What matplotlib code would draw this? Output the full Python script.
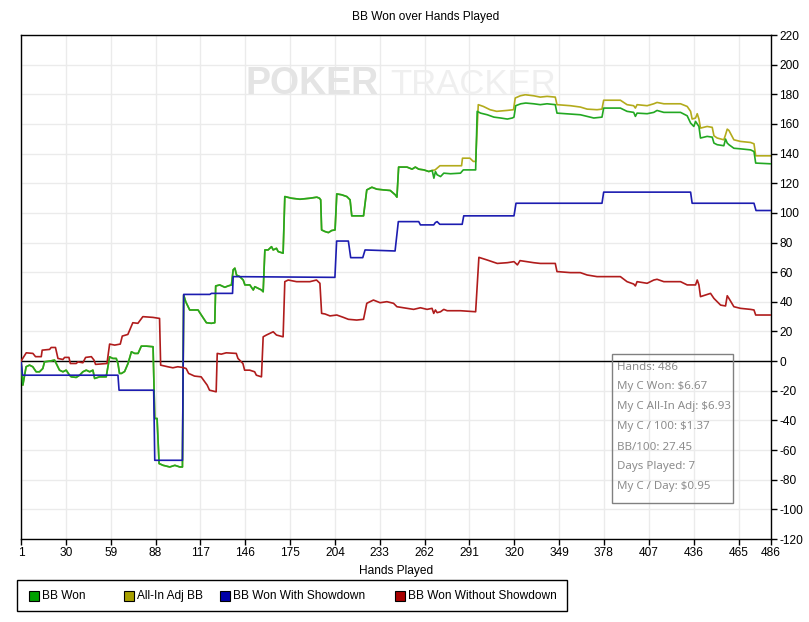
import matplotlib
matplotlib.use('Agg')
import matplotlib.pyplot as plt
from matplotlib.patches import Rectangle

plt.rcParams['font.family'] = ['Liberation Sans', 'DejaVu Sans']
plt.rcParams['axes.unicode_minus'] = False

# BB Won (green)
won_hands = [1, 2.2, 4.3, 6.5, 8.6, 10.8, 13, 15.1, 16.2, 20.5, 22.7, 23.8, 25.9, 28.1, 30.2,
             32.4, 33.5, 36.7, 38.9, 41, 43.2, 45.4, 47.5, 48.6, 51.8, 56.1, 58.3, 60.4, 62.6,
             63.7, 64.7, 66, 68, 70.2, 72.4, 74.5, 76.7, 78.8, 82.1, 86.4, 87.5, 89, 90.3, 92.9,
             95.1, 97.2, 100.5, 103.7, 105.4, 106.2, 107.5, 110.1, 115.5, 117.6, 120.9, 124.1,
             126.3, 126.9, 129.5, 132.8, 134.9, 137.1, 138.2, 139.3, 140.4, 142.5, 144.7, 145.8,
             149, 151.2, 152.2, 154.4, 156.5, 157.6, 158.7, 160.8, 163, 164.1, 166.2, 167.3,
             170.5, 171.6, 175.9, 181.4, 187.9, 192.3, 194, 194.8, 195.4, 197.6, 199.8, 201.9,
             204.1, 205.2, 208.4, 211.7, 213.8, 214.9, 222.5, 224.6, 227.9, 231.1, 235.5, 239.8,
             243, 244.1, 245.2, 250.6, 253.9, 256, 258.2, 261.5, 264.7, 266.9, 268, 269, 270.1,
             272.3, 274.4, 278.7, 285.2, 287, 295, 296, 298.2, 302.5, 306.8, 311.2, 315.5, 318.7,
             319.8, 320.9, 324.2, 327.4, 332.5, 336.8, 341.2, 346.5, 347.6, 356.3, 362.7, 367.1,
             371.4, 376.7, 377.8, 388.6, 392.9, 397.2, 398.3, 399.4, 405.9, 410.2, 412.3, 416.7,
             427.5, 431.8, 434, 436.1, 437.2, 439.4, 440.4, 444.7, 448, 449.1, 451.2, 455.5,
             456.6, 457.7, 458.8, 462, 466.3, 472.8, 475, 476.1, 486]
won_bb = [0, -16.2, -3.8, -2.7, -3.8, -7.2, -7.2, -5, -0.5, 0.2, 0.7, -1.6, -6.1, -7.2, -6.1,
          -9.5, -10.6, -11, -9.5, -7.2, -6.1, -7.2, -6.1, -11.7, -10.6, -10.6, 2.9, 1.8, 1.8,
          -1.6, -8.3, -8.3, -7, -1.6, 6.3, 5.2, 5.2, 10.1, 10.1, 9.7, -38.7, -38.7, -69.1, -70.3,
          -70.9, -71.4, -70.3, -71.4, -71.4, 44.6, 40.1, 34.5, 34.5, 31.1, 25.9, 25.5,
          25.9, 50.7, 51.4, 49.8, 50.7, 51.4, 61.6, 62.7, 58, 57, 54.7, 51.4,
          51.4, 48, 50.2, 49.1, 48, 46.8, 75, 75, 77.2, 75, 76.1, 73.9,
          72.8, 111, 109.9, 109.2, 109.9, 110.6, 109.9, 108.8, 88.5, 87.4, 86.7, 88.1,
          88.5, 112.8, 112.2, 111, 108.8, 98, 98, 115.5, 117.3, 116, 115.5, 115.1,
          112.2, 110.6, 130.9, 130.9, 129.5, 130.9, 129.5, 129, 127.9, 128.6, 123.4, 127.9, 125.7,
          124.5, 126.8, 126.4, 126.8, 129, 129, 168.5, 167.3, 166.2, 164.6, 164, 163.3, 164,
          164.6, 172.3, 173.6, 174.1, 173.6, 173, 173.6, 173, 167.3, 166.7, 166.2, 165.1,
          164, 164.6, 170.7, 170.7, 168.5, 167.8, 165.1, 167.3, 166.9, 167.8, 169.1, 167.8,
          167.8, 165.5, 160.6, 158.3, 161.7, 158.3, 150.5, 151.6, 151.1, 147.1, 146, 145.3,
          149.8, 147.1, 146, 143.6, 143.2, 142.5, 141.4, 133.6, 133.1]

# All-In Adj BB (yellow) follows BB Won until about hand 267
adj_hands_tail = [268.8, 271.9, 285.9, 286.5, 291.3, 293.5, 295, 296.7, 300, 304.3, 308.6,
                  315.1, 319.5, 320.6, 323.9, 327.1, 332.5, 336.8, 341.2, 346.5, 347.6, 356.3,
                  362.7, 367.1, 373.5, 376.7, 377.8, 388.6, 392.9, 397.2, 398.3, 399.4, 405.9,
                  410.2, 412.3, 416.7, 427.5, 431.8, 434, 435, 437.2, 438.3, 439.4, 440.4, 444.7,
                  448, 449.1, 451.2, 455.5, 456.6, 457.7, 458.8, 462, 466.3, 472.8, 475, 476.1, 486]
adj_bb_tail = [129, 131.8, 131.8, 136.9, 136.9, 134.7, 134.7, 173, 171.8, 169.6, 168.5,
               169.1, 169.6, 177.5, 179, 179.7, 179, 178.1, 178.6, 178.1, 173, 172.3,
               171.4, 170, 169.6, 170, 176, 176, 173, 172.3, 170.7, 173, 172.3,
               173.6, 174.5, 173.6, 173.6, 171.8, 168.5, 163.3, 164, 166.9, 163.3, 157.2, 158.3,
               157.7, 152, 150.5, 149.3, 152.7, 156.5, 155.6, 149.3, 148.2, 147.5, 146.6, 138.5, 138.5]

# BB Won With Showdown (blue)
sd_hands = [1, 2, 63.7, 64.4, 86.8, 87.5, 105.4, 106.2, 123.1, 124.2, 137.8, 138.2, 204,
            205.1, 212.7, 214.2, 222, 223.5, 242.9, 245, 258.2, 259.3, 267.9, 269, 270.1,
            271.8, 286.3, 287.3, 319.8, 321.1, 376.7, 377.8, 434, 435, 475, 476.3, 486]
sd_bb = [0, -9.5, -9.5, -19.6, -19.6, -66.9, -66.9, 45, 45, 45.7, 45.7, 57, 56.5,
         81, 81, 69.8, 69.8, 75, 74.3, 94.1, 94.1, 91.9, 91.9, 93.5, 94.1,
         92.3, 92.3, 98, 98, 106.5, 106.5, 114, 114, 106.5, 106.5, 101.6, 101.6]

# BB Won Without Showdown (red)
nsd_hands = [1, 4.4, 8.7, 10.4, 14.1, 14.7, 19.5, 20.5, 23.3, 24.9, 28.1, 29.2, 32, 32.9, 36.7,
             37.8, 41, 42.8, 46.5, 48.2, 49.2, 56.6, 58.3, 61.6, 65.2, 66.5, 70.1, 73.3, 76.6,
             79.8, 86.3, 90.6, 91.3, 95.9, 99.2, 102.4, 105.7, 107.8, 109.4, 113.2, 117.5,
             121.4, 122.9, 127.2, 127.9, 130.5, 133.7, 140.2, 141.3, 144.5, 145.6, 148.9, 152.1,
             153.2, 156.5, 157.6, 159.7, 161.9, 164.1, 166.2, 170.5, 171.6, 173.8, 179.2, 187.8,
             192.1, 194.3, 195.4, 197.6, 200.8, 205.2, 209.5, 212.7, 218.1, 222.5, 224.6, 228.9,
             233.2, 237.6, 241.9, 244.1, 254.9, 259.3, 263.6, 266.8, 267.9, 269, 270.1, 272.3,
             274.4, 276.6, 285.2, 295, 297.1, 302.5, 309, 315.5, 319.8, 322, 323.7, 328.2, 332.5,
             336.8, 346.5, 347.6, 356.3, 362.7, 367.1, 373.5, 388.6, 392.9, 397.2, 398.3, 399.4,
             405.9, 410.2, 412.3, 416.7, 427.5, 431.8, 437.2, 438.3, 439.4, 440.4, 446.9, 449.1,
             453.4, 456.6, 457.7, 458.8, 462, 466.3, 472.8, 475, 476.1, 486]
nsd_bb = [0, 5.6, 5.2, 3, 3, 7.4, 7.9, 9.2, 9.2, 1.8, 1.1, 2.5, 2.5, -1.6, -1.6,
          -0.5, -1.1, 2.5, 3, 0.7, -2.2, -1.6, 11.5, 10.8, 11.5, 16.9, 18, 25.9, 25.5,
          30, 29.5, 28.8, -2.7, -3.8, -4.5, -3.8, -4.3, -5, -8.3, -10.1, -10.6,
          -16.2, -19.6, -20.7, 5.2, 4.7, 5.6, 5.2, 1.8, -1.6, -6.1, -6.1, -7.2,
          -9.5, -10.6, 16.4, 17.6, 18.7, 19.8, 17.6, 16.4, 53.6, 54.7, 53.6, 53.6,
          54.7, 52.5, 32.2, 31.8, 30.5, 31.1, 29.5, 28.2, 27.7, 28.2, 39, 41.2,
          39.4, 40.1, 39, 36.7, 34.9, 36, 34.9, 35.6, 32.2, 34.5, 32.7, 33.3,
          34.9, 34, 34, 33.3, 70, 68.2, 65.9, 66.4, 67.1, 64.9, 67.8, 67.1, 66.4,
          65.9, 65.9, 60.4, 59.7, 59.7, 58.1, 57, 57, 53.6, 52, 50.7, 53.6,
          52.5, 54.7, 55.2, 53.6, 53.6, 51.4, 51.4, 54.7, 51.4, 43.5, 45.7, 42.3,
          37.8, 37.2, 44.1, 42.3, 36.7, 35.6, 34.9, 34.5, 31.1, 31.1]

x_ticks = [1, 30, 59, 88, 117, 146, 175, 204, 233, 262, 291, 320, 349, 378, 407, 436, 465, 486]
y_ticks = list(range(-120, 221, 20))

stats = ['Hands: 486', 'My C Won: $6.67', 'My C All-In Adj: $6.93', 'My C / 100: $1.37',
         'BB/100: 27.45', 'Days Played: 7', 'My C / Day: $0.95']

legend_labels = ['BB Won', 'All-In Adj BB', 'BB Won With Showdown', 'BB Won Without Showdown']
legend_colors = ['#00a000', '#a8a000', '#0000a8', '#a80000']

c_won, c_adj, c_sd, c_nsd = '#22a822', '#b3ab1c', '#1c1cb0', '#b01c1c'

# yellow = green before the split, own values after
adj_hands = [h for h in won_hands if h < 268] + adj_hands_tail
adj_bb = [v for h, v in zip(won_hands, won_bb) if h < 268] + adj_bb_tail

W, H = 809, 622
fs = 8.6
fig = plt.figure(figsize=(W / 100, H / 100), dpi=100)
ax = fig.add_axes([21 / W, 1 - 539 / H, (771 - 21) / W, (539 - 35) / H])
ax.set_facecolor('none')


def px(x, y):
    # pixel position (from top-left) -> figure fraction
    return x / W, 1 - y / H


# watermark
fig.text(*px(246, 84), 'POKER', fontsize=27, fontweight='bold', color='#e4e4e4',
         va='center', ha='left', zorder=0)
fig.text(*px(390, 84), 'TRACKER', fontsize=25, color='#efefef',
         va='center', ha='left', zorder=0)

ax.axhline(0, color='black', lw=1, zorder=1)
ax.plot(adj_hands, adj_bb, color=c_adj, lw=1.2, zorder=2)
ax.plot(won_hands, won_bb, color=c_won, lw=1.2, zorder=3)
ax.plot(sd_hands, sd_bb, color=c_sd, lw=1.2, zorder=4)
ax.plot(nsd_hands, nsd_bb, color=c_nsd, lw=1.2, zorder=5)

ax.set_xlim(1, 486)
ax.set_ylim(-120, 220)
ax.set_xticks(x_ticks)
ax.set_yticks(y_ticks)
ax.yaxis.tick_right()
ax.tick_params(axis='both', labelsize=fs, length=4, width=1, color='black', pad=2)
ax.grid(True, color='#ebebeb', lw=1)
ax.set_axisbelow(True)
for s in ax.spines.values():
    s.set_color('black')
    s.set_linewidth(1)
ax.set_xlabel('Hands Played', fontsize=fs, labelpad=4)

fig.text(*px(426, 17), 'BB Won over Hands Played', fontsize=fs, ha='center', va='center')

# stats box
fig.patches.append(Rectangle(px(612, 503), 121 / W, 149 / H, transform=fig.transFigure,
                             facecolor='none', edgecolor='#808080', lw=1))
for i, line in enumerate(stats):
    fig.text(*px(617, 367 + 20 * i), line, fontsize=8.3, color='#8c8c8c',
             family=['Noto Sans', 'DejaVu Sans'], va='center', ha='left')

# legend box drawn by hand to match the item positions
fig.patches.append(Rectangle(px(17, 611), 550 / W, 31 / H, transform=fig.transFigure,
                             facecolor='white', edgecolor='black', lw=1))
for x0, lab, col in zip([29, 124, 220, 395], legend_labels, legend_colors):
    fig.patches.append(Rectangle(px(x0, 601), 10 / W, 10 / H, transform=fig.transFigure,
                                 facecolor=col, edgecolor='black', lw=0.8))
    fig.text(*px(x0 + 13, 596), lab, fontsize=fs, va='center', ha='left')

fig.savefig('out.png', dpi=100)
